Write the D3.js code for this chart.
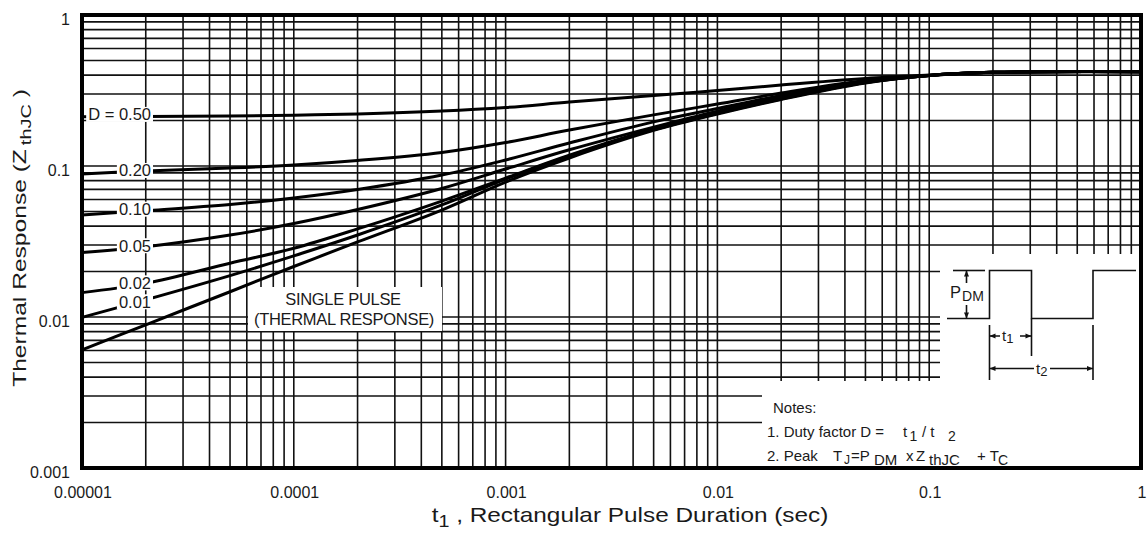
<!DOCTYPE html>
<html>
<head>
<meta charset="utf-8">
<script src="https://cdn.jsdelivr.net/npm/d3@7"></script>
<style>
  body { margin: 0; background: #fff; }
  svg { display: block; }
  text { font-family: "Liberation Sans", Arial, sans-serif; fill: #1a1a1a; }
</style>
</head>
<body>
<svg id="chart" width="1148" height="533"></svg>
<script>
// Pulse duration t1 (sec) at which each curve is sampled
const pulseDurations = [1e-5, 2e-5, 5e-5, 1e-4, 2e-4, 5e-4, 1e-3, 2e-3, 5e-3, 1e-2, 2e-2, 5e-2, 1e-1, 2e-1, 1];

// Normalised transient thermal impedance Z_thJC for each duty factor
const zD050   = [0.212, 0.213, 0.214, 0.217, 0.221, 0.231, 0.244, 0.265, 0.293, 0.316, 0.344, 0.380, 0.400, 0.417, 0.421];
const zD020   = [0.0885, 0.0927, 0.0970, 0.1015, 0.1088, 0.123, 0.143, 0.173, 0.218, 0.257, 0.304, 0.368, 0.398, 0.417, 0.421];
const zD010   = [0.0474, 0.0506, 0.0556, 0.0614, 0.0699, 0.0872, 0.1096, 0.142, 0.196, 0.240, 0.293, 0.363, 0.398, 0.417, 0.421];
const zD005   = [0.0267, 0.0292, 0.0349, 0.0416, 0.0515, 0.0710, 0.0955, 0.128, 0.181, 0.231, 0.286, 0.360, 0.398, 0.417, 0.421];
const zD002   = [0.0145, 0.0167, 0.0227, 0.0285, 0.0383, 0.0586, 0.0832, 0.118, 0.176, 0.224, 0.280, 0.357, 0.398, 0.417, 0.421];
const zD001   = [0.00995, 0.0130, 0.0188, 0.0254, 0.0349, 0.0552, 0.0820, 0.1165, 0.174, 0.223, 0.278, 0.357, 0.398, 0.417, 0.421];
const zSingle = [0.00605, 0.00888, 0.0147, 0.0216, 0.0314, 0.0511, 0.0783, 0.113, 0.172, 0.221, 0.276, 0.355, 0.398, 0.417, 0.421];

const curveLabels = ["D = 0.50", "0.20", "0.10", "0.05", "0.02", "0.01"];

const xTickValues = [1e-5, 1e-4, 1e-3, 1e-2, 1e-1, 1];
const xTickLabels = ["0.00001", "0.0001", "0.001", "0.01", "0.1", "1"];
const yTickValues = [0.001, 0.01, 0.1, 1];
const yTickLabels = ["0.001", "0.01", "0.1", "1"];

const series = [zD050, zD020, zD010, zD005, zD002, zD001, zSingle];

// ---- layout ----
const plot = { left: 82, top: 15, right: 1141, bottom: 468 };
const svg = d3.select("#chart");

const x = d3.scaleLog().domain([1e-5, 1]).range([plot.left, plot.right]);
const y = d3.scaleLog().domain([0.001, 1]).range([plot.bottom, plot.top]);

// ---- log grid ----
const grid = svg.append("g").attr("stroke", "#111").attr("stroke-width", 1.6);
grid.selectAll("line.v").data(x.ticks().filter(d => d > 1e-5 && d < 1))
  .join("line").attr("class", "v")
  .attr("x1", d => x(d)).attr("x2", d => x(d))
  .attr("y1", plot.top).attr("y2", plot.bottom);
grid.selectAll("line.h").data(y.ticks().filter(d => d > 0.001 && d < 1))
  .join("line").attr("class", "h")
  .attr("x1", plot.left).attr("x2", plot.right)
  .attr("y1", d => y(d)).attr("y2", d => y(d));

// ---- response curves ----
const line = d3.line()
  .x((d, i) => x(pulseDurations[i]))
  .y(d => y(d))
  .curve(d3.curveCatmullRom.alpha(0.5));

svg.append("g").selectAll("path").data(series).join("path")
  .attr("d", d => line(d))
  .attr("fill", "none")
  .attr("stroke", "#000")
  .attr("stroke-width", 3)
  .attr("stroke-linejoin", "round");

// ---- blank panels for the waveform sketch and the notes ----
const blank = svg.append("g").attr("fill", "#fff");
blank.append("rect").attr("x", 940).attr("y", 254).attr("width", plot.right - 940).attr("height", 128);
blank.append("rect").attr("x", 762).attr("y", 381).attr("width", plot.right - 762).attr("height", plot.bottom - 381);

// ---- curve labels on white boxes ----
const labelNudge = [-2, -0.5, -1.5, -1, -0.5, 2];
const labelLayer = svg.append("g");
curveLabels.forEach((lbl, i) => {
  const yy = y(series[i][1]) + labelNudge[i];
  const t = labelLayer.append("text")
    .attr("x", 151).attr("y", yy)
    .attr("text-anchor", "end")
    .attr("dominant-baseline", "central")
    .attr("font-size", 16.5)
    .text(lbl);
  const bb = t.node().getBBox();
  labelLayer.insert("rect", "text")
    .attr("x", bb.x - 2).attr("y", bb.y + 1.5)
    .attr("width", bb.width + 4).attr("height", bb.height - 3)
    .attr("fill", "#fff");
});

// single pulse caption
const sp = svg.append("g");
sp.append("rect").attr("x", 248).attr("y", 287).attr("width", 194).attr("height", 44).attr("fill", "#fff");
sp.append("text").attr("x", 343).attr("y", 299).attr("text-anchor", "middle")
  .attr("dominant-baseline", "central").attr("font-size", 16.5).attr("letter-spacing", -0.3)
  .text("SINGLE PULSE");
sp.append("text").attr("x", 344).attr("y", 319).attr("text-anchor", "middle")
  .attr("dominant-baseline", "central").attr("font-size", 16.5).attr("letter-spacing", -0.3)
  .text("(THERMAL RESPONSE)");

// ---- waveform sketch ----
const wf = svg.append("g").attr("stroke", "#111").attr("stroke-width", 1.6).attr("fill", "none");
wf.append("path").attr("d", "M947,318.5 H989.5 V270.5 H1031.5 V318.5 H1093 V270.5 H1136");
wf.append("path").attr("d", "M953,270.5 H985");
wf.append("path").attr("d", "M989.5,325 V380 M1031.5,318.5 V356 M1093,325 V380");
wf.append("path").attr("d", "M966.5,271 V283 M966.5,305 V318");
wf.append("path").attr("d", "M989.5,336 H1000 M1020,336 H1031.5");
wf.append("path").attr("d", "M989.5,368.5 H1034 M1050,368.5 H1093");
const arrows = svg.append("g").attr("fill", "#111");
const heads = [
  "M966.5,270.5 l-2.5,6 h5 z", "M966.5,318.5 l-2.5,-6 h5 z",
  "M989.5,336 l6,-2.5 v5 z", "M1031.5,336 l-6,-2.5 v5 z",
  "M989.5,368.5 l6,-2.5 v5 z", "M1093,368.5 l-6,-2.5 v5 z"
];
arrows.selectAll("path").data(heads).join("path").attr("d", d => d);

const pdm = svg.append("text").attr("x", 950).attr("y", 298).attr("font-size", 16.5);
pdm.append("tspan").text("P");
pdm.append("tspan").attr("font-size", 14).attr("dy", 3).attr("dx", 1).text("DM");
const t1l = svg.append("text").attr("x", 1002).attr("y", 341).attr("font-size", 15);
t1l.append("tspan").text("t");
t1l.append("tspan").attr("font-size", 13).attr("dy", 2).text("1");
const t2l = svg.append("text").attr("x", 1036).attr("y", 373.5).attr("font-size", 15);
t2l.append("tspan").text("t");
t2l.append("tspan").attr("font-size", 13).attr("dy", 2).text("2");

// ---- notes ----
const notes = svg.append("g").attr("font-size", 15);
notes.append("text").attr("x", 773).attr("y", 413).text("Notes:");
const n1 = notes.append("text").attr("y", 437);
n1.append("tspan").attr("x", 767).text("1. Duty factor D =");
n1.append("tspan").attr("x", 903).text("t");
n1.append("tspan").attr("x", 909.5).attr("font-size", 14).attr("dy", 4).text("1");
n1.append("tspan").attr("x", 922).attr("dy", -4).text("/ t");
n1.append("tspan").attr("x", 948).attr("font-size", 14).attr("dy", 4).text("2");
const n2 = notes.append("text").attr("y", 461);
n2.append("tspan").attr("x", 767).text("2. Peak");
n2.append("tspan").attr("x", 833).text("T");
n2.append("tspan").attr("x", 844).attr("font-size", 12).attr("dy", 3).text("J");
n2.append("tspan").attr("x", 851).attr("dy", -3).text("=P");
n2.append("tspan").attr("x", 874).attr("font-size", 15).attr("dy", 4).text("DM");
n2.append("tspan").attr("x", 906).attr("dy", -4).text("x");
n2.append("tspan").attr("x", 916).text("Z");
n2.append("tspan").attr("x", 929).attr("font-size", 15).attr("dy", 4).text("thJC");
n2.append("tspan").attr("x", 977).attr("dy", -4).text("+ T");
n2.append("tspan").attr("x", 998).attr("font-size", 14).attr("dy", 4).text("C");

// ---- frame ----
svg.append("rect")
  .attr("x", plot.left).attr("y", plot.top)
  .attr("width", plot.right - plot.left).attr("height", plot.bottom - plot.top)
  .attr("fill", "none").attr("stroke", "#000").attr("stroke-width", 4);

// ---- tick labels ----
svg.append("g").selectAll("text").data(xTickValues).join("text")
  .attr("x", d => x(d) + 1).attr("y", 492)
  .attr("text-anchor", "middle").attr("dominant-baseline", "central")
  .attr("font-size", 16).attr("fill", "#333")
  .text((d, i) => xTickLabels[i]);

svg.append("g").selectAll("text").data(yTickValues).join("text")
  .attr("x", 70).attr("y", d => y(d) + 4)
  .attr("text-anchor", "end").attr("dominant-baseline", "central")
  .attr("font-size", 16).attr("fill", "#333")
  .text((d, i) => yTickLabels[i]);

// ---- axis titles ----
const xt = svg.append("text").attr("transform", "translate(630,522) scale(1.16,1)")
  .attr("text-anchor", "middle").attr("font-size", 21).attr("fill", "#222");
xt.append("tspan").text("t");
xt.append("tspan").attr("font-size", 17).attr("dy", 5).text("1");
xt.append("tspan").attr("dy", -5).text(" , Rectangular Pulse Duration (sec)");

const yt = svg.append("text")
  .attr("transform", "translate(26,238) rotate(-90) scale(1.33,1)")
  .attr("text-anchor", "middle").attr("font-size", 18.5).attr("fill", "#222");
yt.append("tspan").text("Thermal Response (Z");
yt.append("tspan").attr("font-size", 15).attr("dy", 5).attr("dx", 3).text("thJC");
yt.append("tspan").attr("dy", -5).text(" )");
</script>
</body>
</html>
